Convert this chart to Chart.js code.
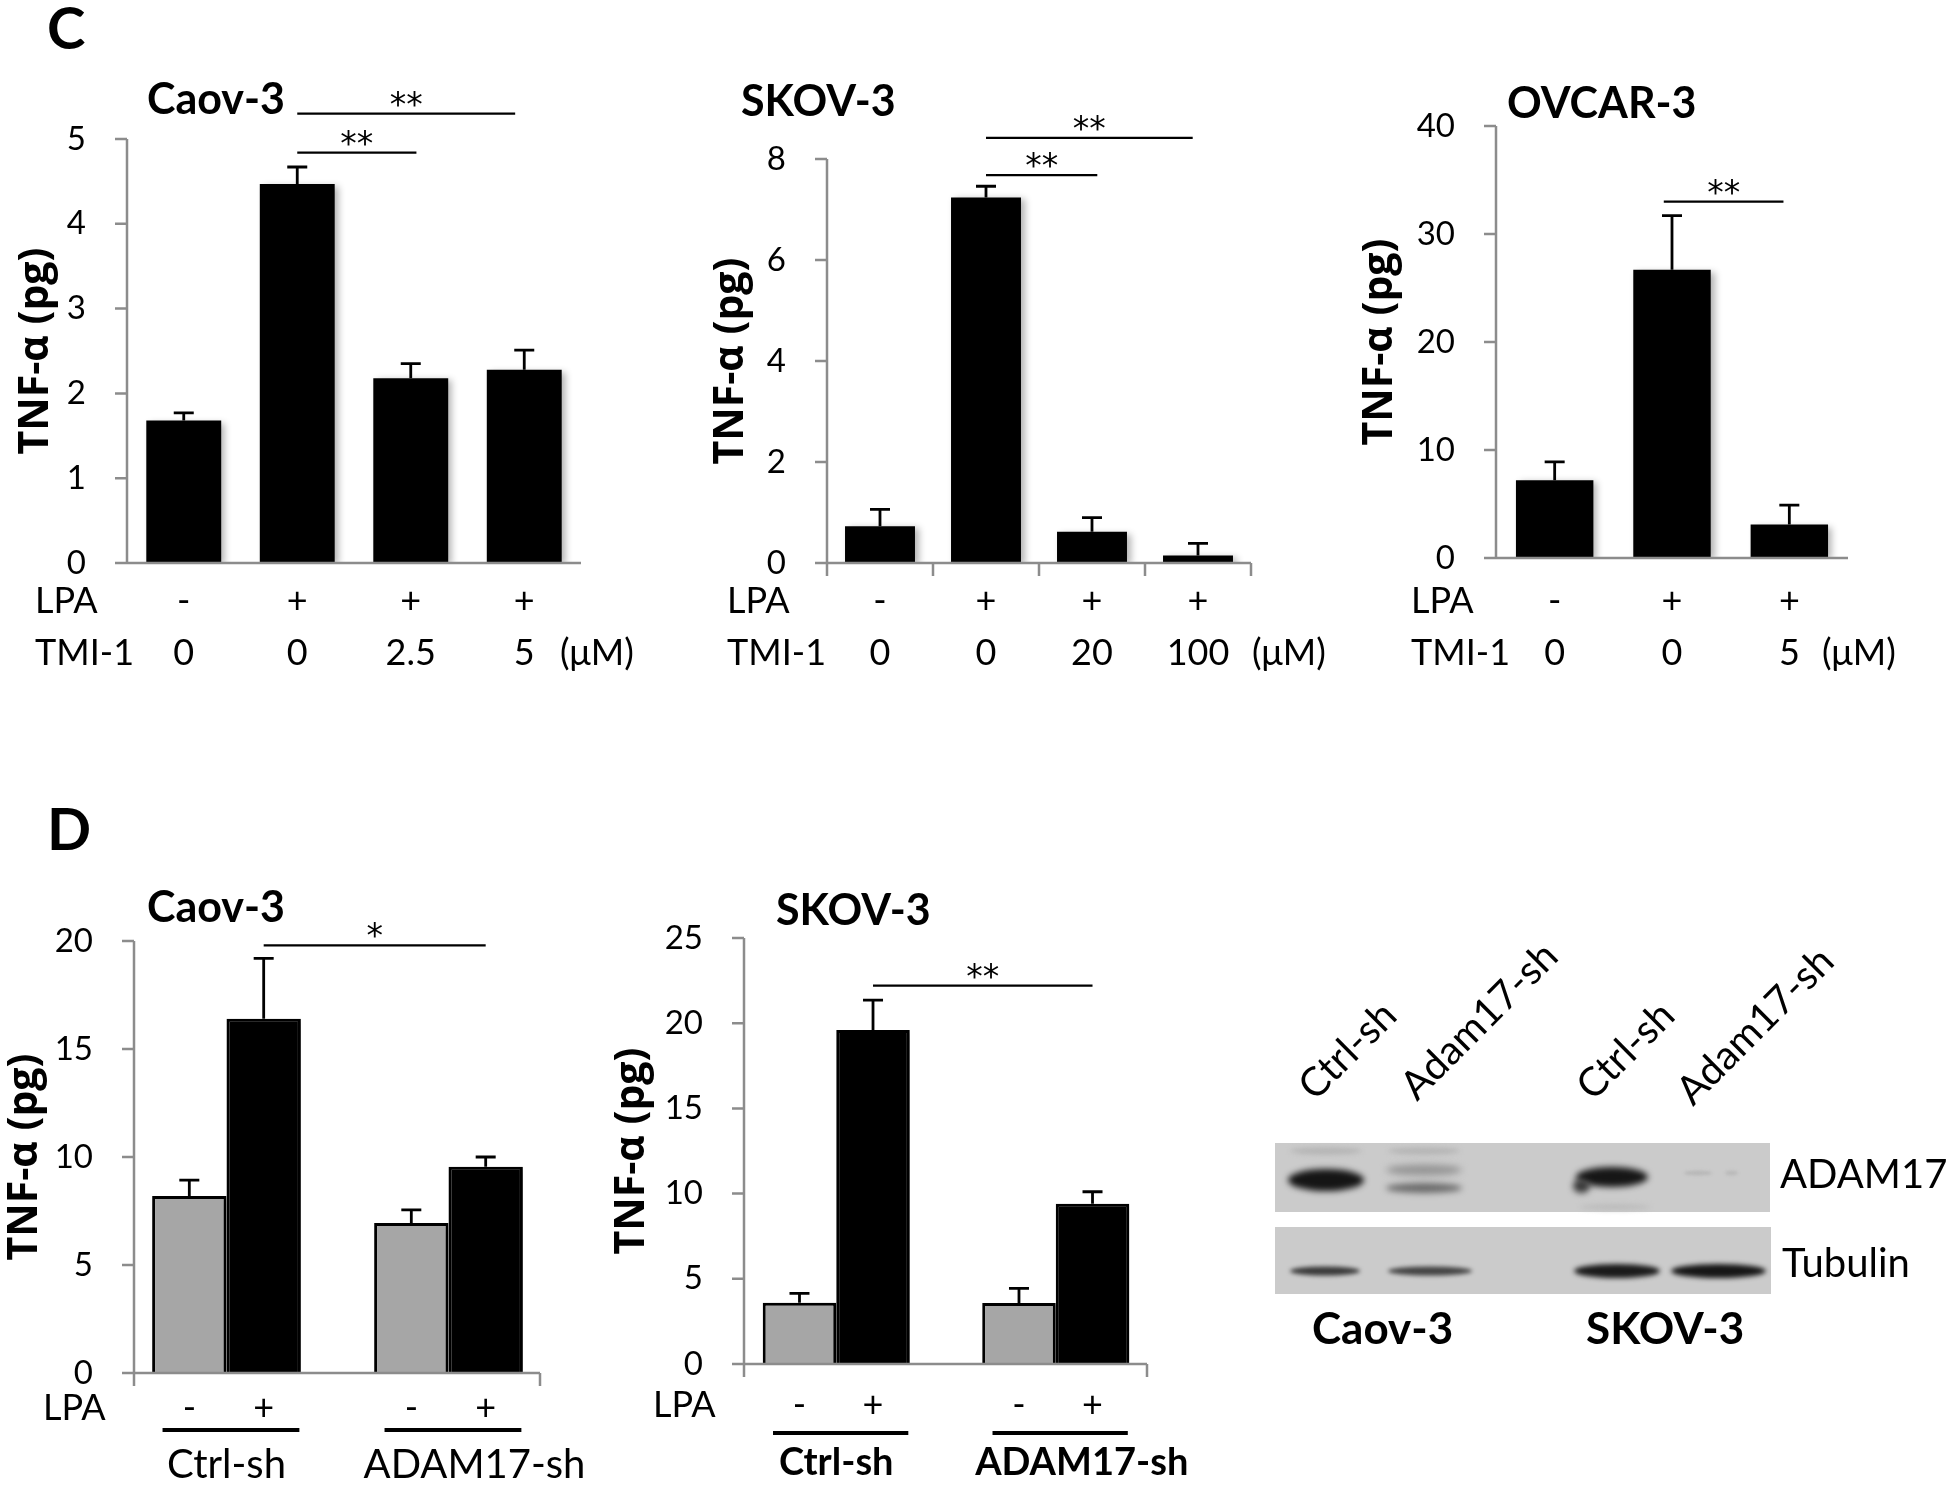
<!DOCTYPE html>
<html lang="en">
<head>
<meta charset="utf-8">
<title>TNF-α release, TMI-1 and ADAM17 knockdown</title>
<script src="https://cdn.jsdelivr.net/npm/chart.js"></script>
<style>
  html, body { margin: 0; padding: 0; background: #fff; }
  body { position: relative; width: 1950px; height: 1487px; overflow: hidden; }
  canvas { position: absolute; }
</style>
</head>
<body>
<canvas id="c1"></canvas>
<canvas id="c2"></canvas>
<canvas id="c3"></canvas>
<canvas id="d1"></canvas>
<canvas id="d2"></canvas>
<canvas id="blot"></canvas>
<script>
// ---- values ----
// panel C, Caov-3
const c1Lpa = ['-', '+', '+', '+'];
const c1Tmi = ['0', '0', '2.5', '5'];
const c1Values = [1.68, 4.47, 2.18, 2.28];
const c1Errors = [0.09, 0.20, 0.17, 0.23];
// panel C, SKOV-3
const c2Lpa = ['-', '+', '+', '+'];
const c2Tmi = ['0', '0', '20', '100'];
const c2Values = [0.73, 7.24, 0.62, 0.15];
const c2Errors = [0.33, 0.22, 0.28, 0.24];
// panel C, OVCAR-3
const c3Lpa = ['-', '+', '+'];
const c3Tmi = ['0', '0', '5'];
const c3Values = [7.2, 26.7, 3.1];
const c3Errors = [1.7, 5.0, 1.8];
// panel D (two shRNA groups, LPA - / +)
const dGroups = ['Ctrl-sh', 'ADAM17-sh'];
const dLpa = ['-', '+'];
const d1Minus = [8.2, 6.95];
const d1MinusErr = [0.73, 0.6];
const d1Plus = [16.4, 9.55];
const d1PlusErr = [2.8, 0.45];
const d2Minus = [3.6, 3.58];
const d2MinusErr = [0.55, 0.86];
const d2Plus = [19.6, 9.4];
const d2PlusErr = [1.76, 0.71];
// western blot labels
const blotLanes = ['Ctrl-sh', 'Adam17-sh', 'Ctrl-sh', 'Adam17-sh'];
const blotRows = ['ADAM17', 'Tubulin'];
const blotCells = ['Caov-3', 'SKOV-3'];

const FONT = 'Lato, "Open Sans", sans-serif';
const AXIS = '#8c8c8c';
const GREY = '#a6a6a6';
const TICK = 12;

function barX(chart, ref) {
  if (typeof ref === 'number') return chart.scales.x.getPixelForValue(ref);
  return chart.getDatasetMeta(ref.ds).data[ref.i].x;
}

function makeDecor(g, d) {
  return {
    id: 'decor',
    beforeDatasetsDraw(chart) {
      const c = chart.ctx;
      c.save();
      c.shadowColor = 'rgba(0,0,0,0.3)';
      c.shadowBlur = 7;
      c.shadowOffsetX = 4;
      c.shadowOffsetY = 2;
    },
    afterDatasetsDraw(chart) {
      const c = chart.ctx;
      c.restore();
      const ys = chart.scales.y;
      c.save();
      c.strokeStyle = '#000';
      c.lineWidth = 2.8;
      chart.data.datasets.forEach((ds, di) => {
        chart.getDatasetMeta(di).data.forEach((bar, i) => {
          const top = ys.getPixelForValue(ds.data[i] + ds.errors[i]);
          c.beginPath();
          c.moveTo(bar.x, bar.y);
          c.lineTo(bar.x, top);
          c.moveTo(bar.x - 10, top);
          c.lineTo(bar.x + 10, top);
          c.stroke();
        });
      });
      c.restore();
    },
    afterDraw(chart) {
      const c = chart.ctx, a = chart.chartArea, ys = chart.scales.y;
      const px = v => v - g.ox, py = v => v - g.oy;
      const vl = px(g.vl), vr = px(g.vr);
      c.save();
      // axes
      c.strokeStyle = AXIS;
      c.lineWidth = 2.5;
      c.beginPath();
      c.moveTo(vl, a.top);
      c.lineTo(vl, a.bottom);
      c.moveTo(vl - TICK, a.bottom);
      c.lineTo(vr, a.bottom);
      ys.ticks.forEach(t => {
        const y = ys.getPixelForValue(t.value);
        c.moveTo(vl - TICK, y);
        c.lineTo(vl, y);
      });
      const n = chart.data.labels.length;
      let marks = [];
      if (d.xTicks === 'bounds') for (let i = 0; i <= n; i++) marks.push(vl + (vr - vl) * i / n);
      if (d.xTicks === 'ends') marks = [vl, vr];
      marks.forEach(m => {
        c.moveTo(m, a.bottom);
        c.lineTo(m, a.bottom + 13);
      });
      c.stroke();

      c.fillStyle = '#000';
      c.strokeStyle = '#000';
      // titles, panel letters
      d.texts.forEach(t => {
        c.font = t.font;
        c.textAlign = 'left';
        c.textBaseline = 'alphabetic';
        c.fillText(t.text, px(t.x), py(t.y));
      });
      // y axis title
      c.save();
      c.translate(px(d.yLabelX), (a.top + a.bottom) / 2);
      c.rotate(-Math.PI / 2);
      c.font = 'bold 41px "Open Sans", sans-serif';
      c.textAlign = 'center';
      c.textBaseline = 'middle';
      c.fillText('TNF-α (pg)', 0, 0);
      c.restore();
      // rows of treatment labels
      c.font = '36px ' + FONT;
      c.textBaseline = 'middle';
      d.rows.forEach(r => {
        c.textAlign = 'left';
        c.fillText(r.name, px(r.nameX), py(r.y));
        c.textAlign = 'center';
        r.cells.forEach(cell => {
          chart.getDatasetMeta(cell.ds).data.forEach((bar, i) => c.fillText(cell.texts[i], bar.x, py(r.y)));
        });
        if (r.unit) {
          c.textAlign = 'left';
          c.fillText(r.unit, px(r.unitX), py(r.y));
        }
      });
      // group underlines and names (panel D)
      if (d.groups) {
        const m0 = chart.getDatasetMeta(0), m1 = chart.getDatasetMeta(1);
        chart.data.labels.forEach((lab, i) => {
          const left = m0.data[i].x - m0.data[i].width / 2;
          const right = m1.data[i].x + m1.data[i].width / 2;
          const w = right - left;
          c.lineWidth = 4;
          c.beginPath();
          c.moveTo(left + 0.07 * w, py(d.groups.lineY));
          c.lineTo(right - 0.01 * w, py(d.groups.lineY));
          c.stroke();
          c.font = d.groups.font;
          c.textAlign = 'center';
          c.fillText(lab, (left + right) / 2 + d.groups.shift[i], py(d.groups.textY));
        });
      }
      // significance bars
      c.lineWidth = 2.2;
      d.sig.forEach(s => {
        const x1 = barX(chart, s.from), x2 = barX(chart, s.to), y = ys.getPixelForValue(s.y);
        c.beginPath();
        c.moveTo(x1, y);
        c.lineTo(x2, y);
        c.stroke();
        c.font = '33px "DejaVu Sans", sans-serif';
        c.textAlign = 'center';
        c.textBaseline = 'alphabetic';
        c.fillText(s.mark, (x1 + x2) / 2, y + 2);
      });
      c.restore();
    }
  };
}

function makeChart(id, g, labels, datasets, yMax, yStep, deco) {
  const cv = document.getElementById(id);
  cv.width = g.w;
  cv.height = g.h;
  cv.style.left = g.ox + 'px';
  cv.style.top = g.oy + 'px';
  g.vl = g.vl || g.l;
  g.vr = g.vr || g.r;
  const yW = g.l - g.ox, padTop = g.t - g.oy, padRight = g.ox + g.w - g.r, xH = g.oy + g.h - g.b;
  return new Chart(cv, {
    type: 'bar',
    data: { labels: labels, datasets: datasets },
    options: {
      responsive: false,
      animation: false,
      layout: { padding: { top: padTop, right: padRight, left: 0, bottom: 0 } },
      plugins: { legend: { display: false }, tooltip: { enabled: false } },
      scales: {
        x: {
          grid: { display: false },
          ticks: { display: false },
          border: { display: false },
          afterFit(s) { s.height = xH; }
        },
        y: {
          min: 0,
          max: yMax,
          ticks: { stepSize: yStep, color: '#000', font: { family: FONT, size: 33 }, padding: 41 - (g.vl - g.l) },
          grid: { display: false, drawTicks: false, tickLength: 0 },
          border: { display: false },
          afterFit(s) { s.width = yW; }
        }
      }
    },
    plugins: [makeDecor(g, deco)]
  });
}

function blackBars(values, errors) {
  return [{ data: values, errors: errors, backgroundColor: '#000', borderWidth: 0, barPercentage: 0.66, categoryPercentage: 1 }];
}
function pairBars(minus, minusErr, plus, plusErr) {
  return [
    { data: minus, errors: minusErr, backgroundColor: GREY, borderColor: '#000', borderWidth: 3, borderSkipped: 'bottom', barPercentage: 1, categoryPercentage: 0.67 },
    { data: plus, errors: plusErr, backgroundColor: '#000', borderColor: '#000', borderWidth: 3, borderSkipped: 'bottom', barPercentage: 1, categoryPercentage: 0.67 }
  ];
}

const BOLD_TITLE = 'bold 43px ' + FONT;
const LETTER = 'bold 58px ' + FONT;

// ---- panel C ----
makeChart('c1', { ox: 0, oy: 0, w: 660, h: 700, l: 127, r: 581, t: 139, b: 563 },
  c1Tmi, blackBars(c1Values, c1Errors), 5, 1, {
    texts: [{ text: 'C', x: 47, y: 49, font: LETTER }, { text: 'Caov-3', x: 147, y: 114, font: BOLD_TITLE }],
    yLabelX: 36,
    rows: [
      { name: 'LPA', nameX: 35, y: 601, cells: [{ ds: 0, texts: c1Lpa }] },
      { name: 'TMI-1', nameX: 35, y: 653, cells: [{ ds: 0, texts: c1Tmi }], unit: '(μM)', unitX: 560 }
    ],
    sig: [{ from: 1, to: 2.92, y: 5.3, mark: '**' }, { from: 1, to: 2.05, y: 4.84, mark: '**' }],
    xTicks: null
  });

makeChart('c2', { ox: 660, oy: 60, w: 700, h: 640, l: 827, r: 1251, t: 159, b: 563 },
  c2Tmi, blackBars(c2Values, c2Errors), 8, 2, {
    texts: [{ text: 'SKOV-3', x: 741, y: 116, font: BOLD_TITLE }],
    yLabelX: 731,
    rows: [
      { name: 'LPA', nameX: 727, y: 601, cells: [{ ds: 0, texts: c2Lpa }] },
      { name: 'TMI-1', nameX: 727, y: 653, cells: [{ ds: 0, texts: c2Tmi }], unit: '(μM)', unitX: 1252 }
    ],
    sig: [{ from: 1, to: 2.95, y: 8.42, mark: '**' }, { from: 1, to: 2.05, y: 7.68, mark: '**' }],
    xTicks: 'bounds'
  });

makeChart('c3', { ox: 1340, oy: 60, w: 610, h: 640, l: 1496, r: 1848, t: 126, b: 558 },
  c3Tmi, blackBars(c3Values, c3Errors), 40, 10, {
    texts: [{ text: 'OVCAR-3', x: 1507, y: 118, font: BOLD_TITLE }],
    yLabelX: 1380,
    rows: [
      { name: 'LPA', nameX: 1411, y: 601, cells: [{ ds: 0, texts: c3Lpa }] },
      { name: 'TMI-1', nameX: 1411, y: 653, cells: [{ ds: 0, texts: c3Tmi }], unit: '(μM)', unitX: 1822 }
    ],
    sig: [{ from: 0.93, to: 1.95, y: 33, mark: '**' }],
    xTicks: null
  });

// ---- panel D ----
makeChart('d1', { ox: 0, oy: 780, w: 620, h: 707, l: 115.5, r: 559.5, vl: 134, vr: 540, t: 941, b: 1373 },
  dGroups, pairBars(d1Minus, d1MinusErr, d1Plus, d1PlusErr), 20, 5, {
    texts: [{ text: 'D', x: 47, y: 850, font: LETTER }, { text: 'Caov-3', x: 147, y: 922, font: BOLD_TITLE }],
    yLabelX: 25,
    rows: [{ name: 'LPA', nameX: 43, y: 1408, cells: [{ ds: 0, texts: [dLpa[0], dLpa[0]] }, { ds: 1, texts: [dLpa[1], dLpa[1]] }] }],
    groups: { lineY: 1430, textY: 1465, font: '40px ' + FONT, shift: [0, 26] },
    sig: [{ from: { ds: 1, i: 0 }, to: { ds: 1, i: 1 }, y: 19.8, mark: '*' }],
    xTicks: 'ends'
  });

makeChart('d2', { ox: 560, oy: 860, w: 660, h: 627, l: 726.5, r: 1165.5, vl: 744, vr: 1147, t: 938, b: 1364 },
  dGroups, pairBars(d2Minus, d2MinusErr, d2Plus, d2PlusErr), 25, 5, {
    texts: [{ text: 'SKOV-3', x: 776, y: 925, font: BOLD_TITLE }],
    yLabelX: 632,
    rows: [{ name: 'LPA', nameX: 653, y: 1405, cells: [{ ds: 0, texts: [dLpa[0], dLpa[0]] }, { ds: 1, texts: [dLpa[1], dLpa[1]] }] }],
    groups: { lineY: 1433, textY: 1463, font: 'bold 38px ' + FONT, shift: [0, 26] },
    sig: [{ from: { ds: 1, i: 0 }, to: { ds: 1, i: 1 }, y: 22.2, mark: '**' }],
    xTicks: 'ends'
  });

// ---- western blot (picture, drawn by hand) ----
(function drawBlot() {
  const ox = 1220, oy = 880;
  const cv = document.getElementById('blot');
  cv.width = 730;
  cv.height = 500;
  cv.style.left = ox + 'px';
  cv.style.top = oy + 'px';
  const c = cv.getContext('2d');
  const X = v => v - ox, Y = v => v - oy;

  c.fillStyle = '#cbcbcb';
  c.fillRect(X(1275), Y(1143), 495, 69);
  c.fillRect(X(1275), Y(1227), 496, 67);

  function band(x1, x2, yc, h, col, blur) {
    c.save();
    c.filter = 'blur(' + blur + 'px)';
    c.fillStyle = col;
    c.beginPath();
    c.ellipse(X((x1 + x2) / 2), Y(yc), (x2 - x1) / 2, h / 2, 0, 0, Math.PI * 2);
    c.fill();
    c.restore();
  }
  // ADAM17 row
  band(1290, 1362, 1151, 7, '#b4b4b4', 2.5);
  band(1388, 1460, 1151, 7, '#b4b4b4', 2.5);
  band(1288, 1364, 1180, 22, '#151515', 3);
  band(1386, 1462, 1170, 11, '#959595', 3.5);
  band(1386, 1462, 1188, 10, '#6a6a6a', 3);
  band(1576, 1648, 1177, 20, '#161616', 3);
  band(1573, 1590, 1186, 14, '#3a3a3a', 3);
  band(1684, 1712, 1173, 5, '#b8b8b8', 1.5);
  band(1725, 1738, 1173, 5, '#bababa', 1.5);
  band(1580, 1650, 1207, 6, '#bcbcbc', 2.5);
  // Tubulin row
  band(1290, 1360, 1271, 9, '#3a3a3a', 2);
  band(1388, 1472, 1271, 9, '#444', 2);
  band(1574, 1660, 1271, 14, '#1a1a1a', 2.5);
  band(1671, 1766, 1271, 14, '#161616', 2.5);

  c.fillStyle = '#000';
  c.font = '40px ' + FONT;
  const starts = [[1315, 1102], [1417, 1102], [1593, 1102], [1693, 1107]];
  blotLanes.forEach((t, i) => {
    c.save();
    c.translate(X(starts[i][0]), Y(starts[i][1]));
    c.rotate(-Math.PI / 4);
    c.textAlign = 'left';
    c.textBaseline = 'alphabetic';
    c.fillText(t, 0, 0);
    c.restore();
  });
  c.textBaseline = 'middle';
  c.fillText(blotRows[0], X(1780), Y(1175));
  c.fillText(blotRows[1], X(1782), Y(1264));
  c.font = 'bold 44px ' + FONT;
  c.fillText(blotCells[0], X(1312), Y(1330));
  c.fillText(blotCells[1], X(1586), Y(1330));
})();
</script>
</body>
</html>
